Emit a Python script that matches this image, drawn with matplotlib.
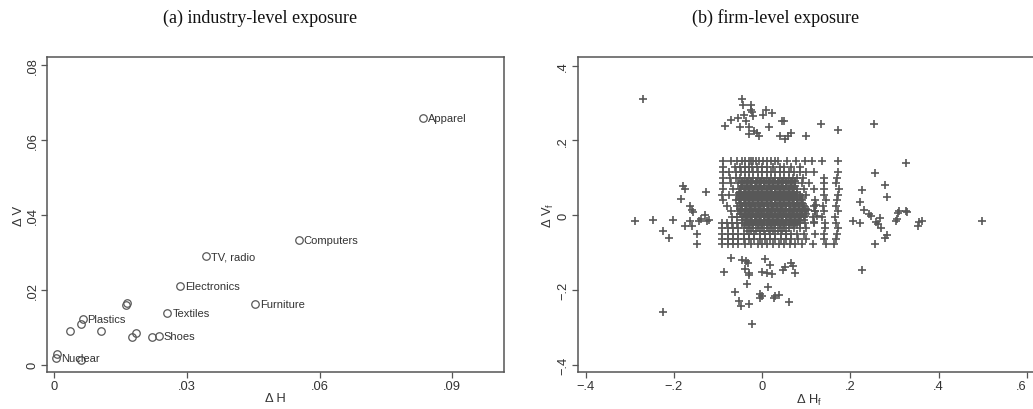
import matplotlib
matplotlib.use("Agg")
import matplotlib.pyplot as plt
import numpy as np

# ---------------- (a) industry-level data ----------------
ind_H = [0.0833, 0.0553, 0.0343, 0.0285, 0.0455, 0.0256, 0.0236, 0.0221,
         0.0185, 0.0175, 0.0106, 0.0164, 0.0162, 0.0064, 0.0061, 0.0035,
         0.0004, 0.0005, 0.0060]
ind_V = [0.0658, 0.0332, 0.0289, 0.0210, 0.0161, 0.0138, 0.0077, 0.0075,
         0.0085, 0.0075, 0.0091, 0.0164, 0.0160, 0.0121, 0.0108, 0.0091,
         0.0017, 0.0028, 0.0012]
ind_lab = ["Apparel", "Computers", "TV, radio", "Electronics", "Furniture",
           "Textiles", "Shoes", "", "", "", "", "", "", "Plastics", "", "",
           "Nuclear", "", ""]

# ---------------- (b) firm-level data ----------------
# scattered outliers
out_H = [-0.270, -0.288, -0.248, -0.224, -0.211, -0.201, -0.224, -0.184, -0.179,
         -0.174, -0.176, -0.164, -0.160, -0.157, -0.163, -0.159, -0.148, -0.147,
         -0.144, -0.138, -0.130, -0.127, -0.121, -0.124,
         0.499, 0.206, 0.221, 0.222, 0.227, 0.227, 0.231, 0.242, 0.246, 0.254,
         0.256, 0.256, 0.259, 0.263, 0.268, 0.270, 0.278, 0.282, 0.278, 0.283,
         0.303, 0.306, 0.307, 0.310, 0.325, 0.329, 0.325, 0.352, 0.355, 0.361,
         0.120, 0.125, 0.118, 0.122]
out_V = [0.310, -0.016, -0.013, -0.043, -0.062, -0.013, -0.259, 0.043, 0.079,
         0.071, -0.030, 0.024, 0.014, 0.009, -0.016, -0.030, -0.050, -0.077,
         -0.017, -0.010, 0.000, 0.061, -0.013, -0.017,
         -0.016, -0.016, -0.022, 0.034, 0.068, -0.146, 0.015, 0.002, -0.001, 0.245,
         0.113, -0.076, -0.019, -0.025, -0.008, -0.034, 0.081, 0.049, -0.062, -0.053,
         -0.016, -0.011, 0.006, 0.011, 0.011, 0.008, 0.140, -0.028, -0.018, -0.016,
         0.012, -0.002, -0.018, 0.026]
# upper cluster
top_H = [-0.046, -0.043, -0.026, -0.026, -0.023, -0.041, -0.021, -0.036, -0.055,
         -0.085, -0.051, -0.071, -0.030, -0.029, -0.019, -0.011, -0.008, 0.009,
         0.023, 0.002, 0.015, 0.046, 0.049, 0.041, 0.052, 0.058, 0.066, 0.099,
         0.133, 0.171]
top_V = [0.310, 0.294, 0.295, 0.282, 0.276, 0.268, 0.264, 0.253, 0.260, 0.238,
         0.237, 0.254, 0.237, 0.217, 0.226, 0.219, 0.213, 0.282, 0.274, 0.268,
         0.235, 0.253, 0.253, 0.211, 0.203, 0.212, 0.221, 0.212, 0.243, 0.229]
# lower cluster
bot_H = [-0.087, -0.070, -0.045, -0.036, -0.032, -0.040, -0.030, -0.029, -0.035,
         -0.062, -0.052, -0.047, -0.029, -0.023, -0.005, -0.004, 0.000, -0.001,
         0.011, 0.023, 0.007, 0.017, 0.013, 0.026, 0.030, 0.039, 0.047, 0.052,
         0.066, 0.069, 0.075, 0.060]
bot_V = [-0.152, -0.114, -0.119, -0.124, -0.127, -0.144, -0.156, -0.159, -0.184,
         -0.206, -0.230, -0.242, -0.238, -0.290, -0.211, -0.222, -0.216, -0.151,
         -0.156, -0.158, -0.118, -0.133, -0.193, -0.222, -0.216, -0.214, -0.147,
         -0.140, -0.128, -0.135, -0.156, -0.233]
# central block, row by row (row value of dV and the dH values in that row)
row_V = [0.145, 0.130, 0.115, 0.100, 0.085, 0.070, 0.055, 0.040, 0.025, 0.010,
         -0.005, -0.020, -0.035, -0.050, -0.065, -0.078,
         0.0925, 0.0775, 0.0625, 0.0475, 0.0325, 0.0175, 0.0025, -0.0125, -0.0275,
         -0.0425,
         0.0888, 0.0738, 0.0588, 0.0438, 0.0288, 0.0138, -0.0012, -0.0162]
row_H = [
    [-0.088, -0.070, -0.058, -0.045, -0.040, -0.030, -0.025, -0.020, -0.015, -0.008,
     0.002, 0.010, 0.020, 0.028, 0.035, 0.057, 0.077, 0.096, 0.114, 0.136, 0.171],
    [-0.088, -0.062, -0.050, -0.040, -0.030, -0.022, -0.012, 0.000, 0.012, 0.025,
     0.040, 0.050, 0.065, 0.086],
    [-0.088, -0.075, -0.060, -0.048, -0.038, -0.030, -0.020, -0.010, 0.000, 0.010,
     0.020, 0.030, 0.040, 0.050, 0.060, 0.072, 0.085, 0.100, 0.118, 0.171],
    [-0.088, -0.072, -0.060, -0.050, -0.040, -0.030, -0.020, -0.010, 0.000, 0.010,
     0.020, 0.030, 0.040, 0.050, 0.060, 0.070, 0.080, 0.092, 0.140, 0.170],
    [-0.088, -0.070, -0.055, -0.045, -0.035, -0.025, -0.015, -0.005, 0.005, 0.015,
     0.025, 0.035, 0.045, 0.055, 0.065, 0.075, 0.090, 0.105, 0.140, 0.168],
    [-0.088, -0.066, -0.050, -0.040, -0.030, -0.020, -0.010, 0.000, 0.010, 0.020,
     0.030, 0.040, 0.050, 0.060, 0.070, 0.080, 0.095, 0.118, 0.140, 0.173],
    [-0.092, -0.075, -0.058, -0.046, -0.036, -0.026, -0.016, -0.006, 0.004, 0.014,
     0.024, 0.034, 0.044, 0.054, 0.064, 0.074, 0.086, 0.100, 0.140, 0.172],
    [-0.088, -0.060, -0.050, -0.040, -0.030, -0.020, -0.010, 0.000, 0.010, 0.020,
     0.030, 0.040, 0.050, 0.060, 0.070, 0.080, 0.090, 0.120, 0.145, 0.170],
    [-0.080, -0.058, -0.046, -0.036, -0.026, -0.016, -0.006, 0.004, 0.014, 0.024,
     0.034, 0.044, 0.054, 0.064, 0.074, 0.084, 0.094, 0.118, 0.138, 0.168],
    [-0.070, -0.055, -0.045, -0.035, -0.025, -0.015, -0.005, 0.005, 0.015, 0.025,
     0.035, 0.045, 0.055, 0.065, 0.075, 0.085, 0.098, 0.120, 0.140, 0.172],
    [-0.068, -0.056, -0.046, -0.036, -0.026, -0.016, -0.006, 0.004, 0.014, 0.024,
     0.034, 0.044, 0.054, 0.064, 0.074, 0.084, 0.095, 0.115, 0.135, 0.165],
    [-0.092, -0.080, -0.068, -0.056, -0.045, -0.035, -0.025, -0.015, -0.005, 0.005,
     0.015, 0.025, 0.035, 0.045, 0.055, 0.065, 0.075, 0.085, 0.098, 0.118, 0.142, 0.168],
    [-0.090, -0.078, -0.066, -0.054, -0.042, -0.030, -0.020, -0.010, 0.000, 0.010,
     0.020, 0.030, 0.040, 0.050, 0.060, 0.072, 0.085, 0.100, 0.142, 0.172],
    [-0.090, -0.078, -0.066, -0.054, -0.042, -0.030, -0.018, -0.006, 0.006, 0.018,
     0.030, 0.042, 0.054, 0.066, 0.080, 0.095, 0.120, 0.140, 0.170],
    [-0.090, -0.078, -0.066, -0.054, -0.042, -0.030, -0.018, -0.006, 0.006, 0.018,
     0.030, 0.042, 0.054, 0.066, 0.082, 0.100, 0.140, 0.168],
    [-0.090, -0.078, -0.066, -0.054, -0.040, -0.025, -0.010, 0.000, 0.012, 0.025,
     0.038, 0.050, 0.062, 0.075, 0.090, 0.115, 0.145, 0.163],
    [-0.045, -0.035, -0.025, -0.015, -0.005, 0.005, 0.015, 0.025, 0.035, 0.045,
     0.055, 0.065, 0.075],
    [-0.045, -0.035, -0.025, -0.015, -0.005, 0.005, 0.015, 0.025, 0.035, 0.045,
     0.055, 0.065, 0.075],
    [-0.050, -0.040, -0.030, -0.020, -0.010, 0.000, 0.010, 0.020, 0.030, 0.040,
     0.050, 0.060, 0.070, 0.080],
    [-0.050, -0.040, -0.030, -0.020, -0.010, 0.000, 0.010, 0.020, 0.030, 0.040,
     0.050, 0.060, 0.070, 0.080, 0.090],
    [-0.050, -0.040, -0.030, -0.020, -0.010, 0.000, 0.010, 0.020, 0.030, 0.040,
     0.050, 0.060, 0.070, 0.080, 0.090],
    [-0.050, -0.040, -0.030, -0.020, -0.010, 0.000, 0.010, 0.020, 0.030, 0.040,
     0.050, 0.060, 0.070, 0.080, 0.090, 0.100],
    [-0.050, -0.040, -0.030, -0.020, -0.010, 0.000, 0.010, 0.020, 0.030, 0.040,
     0.050, 0.060, 0.070, 0.080, 0.090, 0.100],
    [-0.045, -0.035, -0.025, -0.015, -0.005, 0.005, 0.015, 0.025, 0.035, 0.045,
     0.055, 0.065, 0.075, 0.085, 0.095],
    [-0.040, -0.030, -0.020, -0.010, 0.000, 0.010, 0.020, 0.030, 0.040, 0.050,
     0.060, 0.070, 0.080],
    [-0.035, -0.025, -0.015, -0.005, 0.005, 0.015, 0.025, 0.035, 0.045, 0.055],
    [-0.042, -0.032, -0.022, -0.012, -0.002, 0.008, 0.018, 0.028, 0.038, 0.048,
     0.058, 0.068],
    [-0.047, -0.037, -0.027, -0.017, -0.007, 0.003, 0.013, 0.023, 0.033, 0.043,
     0.053, 0.063, 0.073],
    [-0.052, -0.042, -0.032, -0.022, -0.012, -0.002, 0.008, 0.018, 0.028, 0.038,
     0.048, 0.058, 0.068, 0.078],
    [-0.052, -0.042, -0.032, -0.022, -0.012, -0.002, 0.008, 0.018, 0.028, 0.038,
     0.048, 0.058, 0.068, 0.078, 0.088],
    [-0.047, -0.037, -0.027, -0.017, -0.007, 0.003, 0.013, 0.023, 0.033, 0.043,
     0.053, 0.063, 0.073, 0.083, 0.093],
    [-0.047, -0.037, -0.027, -0.017, -0.007, 0.003, 0.013, 0.023, 0.033, 0.043,
     0.053, 0.063, 0.073, 0.083, 0.093, 0.103],
    [-0.042, -0.032, -0.022, -0.012, -0.002, 0.008, 0.018, 0.028, 0.038, 0.048,
     0.058, 0.068, 0.078, 0.088, 0.098],
    [-0.037, -0.027, -0.017, -0.007, 0.003, 0.013, 0.023, 0.033, 0.043, 0.053,
     0.063, 0.073, 0.083],
]

x_ticks_a = [0, 0.03, 0.06, 0.09]
x_ticklabels_a = ["0", ".03", ".06", ".09"]
y_ticks_a = [0, 0.02, 0.04, 0.06, 0.08]
y_ticklabels_a = ["0", ".02", ".04", ".06", ".08"]
x_ticks_b = [-0.4, -0.2, 0, 0.2, 0.4, 0.6]
x_ticklabels_b = ["\u2212.4", "\u2212.2", "0", ".2", ".4", ".6"]
y_ticks_b = [-0.4, -0.2, 0, 0.2, 0.4]
y_ticklabels_b = ["\u2212.4", "\u2212.2", "0", ".2", ".4"]

plt.rcParams['font.family'] = ['Liberation Sans', 'DejaVu Sans']
MK = "#585858"
FR = "#555555"
TXT = "#333333"
FS = 9.3

fig = plt.figure(figsize=(10.33, 4.10), dpi=100)
ax1 = fig.add_axes([47/1033, 1-373/410, (504-47)/1033, (373-58)/410])
ax2 = fig.add_axes([577.7/1033, 1-373/410, (1040-577.7)/1033, (373-58)/410])

def style(ax):
    for s in ax.spines.values():
        s.set_color(FR)
        s.set_linewidth(1.1)
    ax.tick_params(axis='both', colors=FR, labelcolor=TXT, length=4, width=0.9,
                   labelsize=FS, pad=2)
    for lab in ax.get_yticklabels():
        lab.set_rotation(90)
        lab.set_va('center')

# (a)
ax1.plot(ind_H, ind_V, linestyle='none', marker='o', markersize=5.4,
         markerfacecolor='none', markeredgecolor=MK, markeredgewidth=0.9)
for h, v, t in zip(ind_H, ind_V, ind_lab):
    if t:
        ax1.annotate(t, (h, v), xytext=(3.5, 0), textcoords='offset points',
                     ha='left', va='center', fontsize=8, color=TXT)
ax1.set_xlim(-0.00165, 0.1017)
ax1.set_ylim(-0.00195, 0.0821)
ax1.set_xticks(x_ticks_a)
ax1.set_xticklabels(x_ticklabels_a)
ax1.set_yticks(y_ticks_a)
ax1.set_yticklabels(y_ticklabels_a)
ax1.set_xlabel("\u0394 H", fontsize=FS, color=TXT, labelpad=0)
ax1.set_ylabel("\u0394 V", fontsize=FS, color=TXT, labelpad=1)
style(ax1)

# (b)
fx = list(out_H) + list(top_H) + list(bot_H)
fy = list(out_V) + list(top_V) + list(bot_V)
for v, hs in zip(row_V, row_H):
    fx += list(hs)
    fy += [v] * len(hs)
ax2.plot(fx, fy, linestyle='none', marker='+', markersize=6.3,
         markeredgecolor=MK, markeredgewidth=1.2)
ax2.set_xlim(-0.418, 0.6295)
ax2.set_ylim(-0.4196, 0.423)
ax2.set_xticks(x_ticks_b)
ax2.set_xticklabels(x_ticklabels_b)
ax2.set_yticks(y_ticks_b)
ax2.set_yticklabels(y_ticklabels_b)
ax2.set_xlabel("\u0394 H$_\\mathregular{f}$", fontsize=FS, color=TXT, labelpad=0)
ax2.set_ylabel("\u0394 V$_\\mathregular{f}$", fontsize=FS, color=TXT, labelpad=1)
style(ax2)
ax2.get_xticklabels()[-1].set_ha('right')
ax2.get_xticklabels()[-1].set_x(0.6)

fig.text(260/1033, 1-18/410, "(a) industry-level exposure", ha='center', va='center',
         fontsize=13, family=['Liberation Serif', 'DejaVu Serif'], color='#111111')
fig.text(776/1033, 1-18/410, "(b) firm-level exposure", ha='center', va='center',
         fontsize=13, family=['Liberation Serif', 'DejaVu Serif'], color='#111111')

fig.savefig("out.png", dpi=100)
